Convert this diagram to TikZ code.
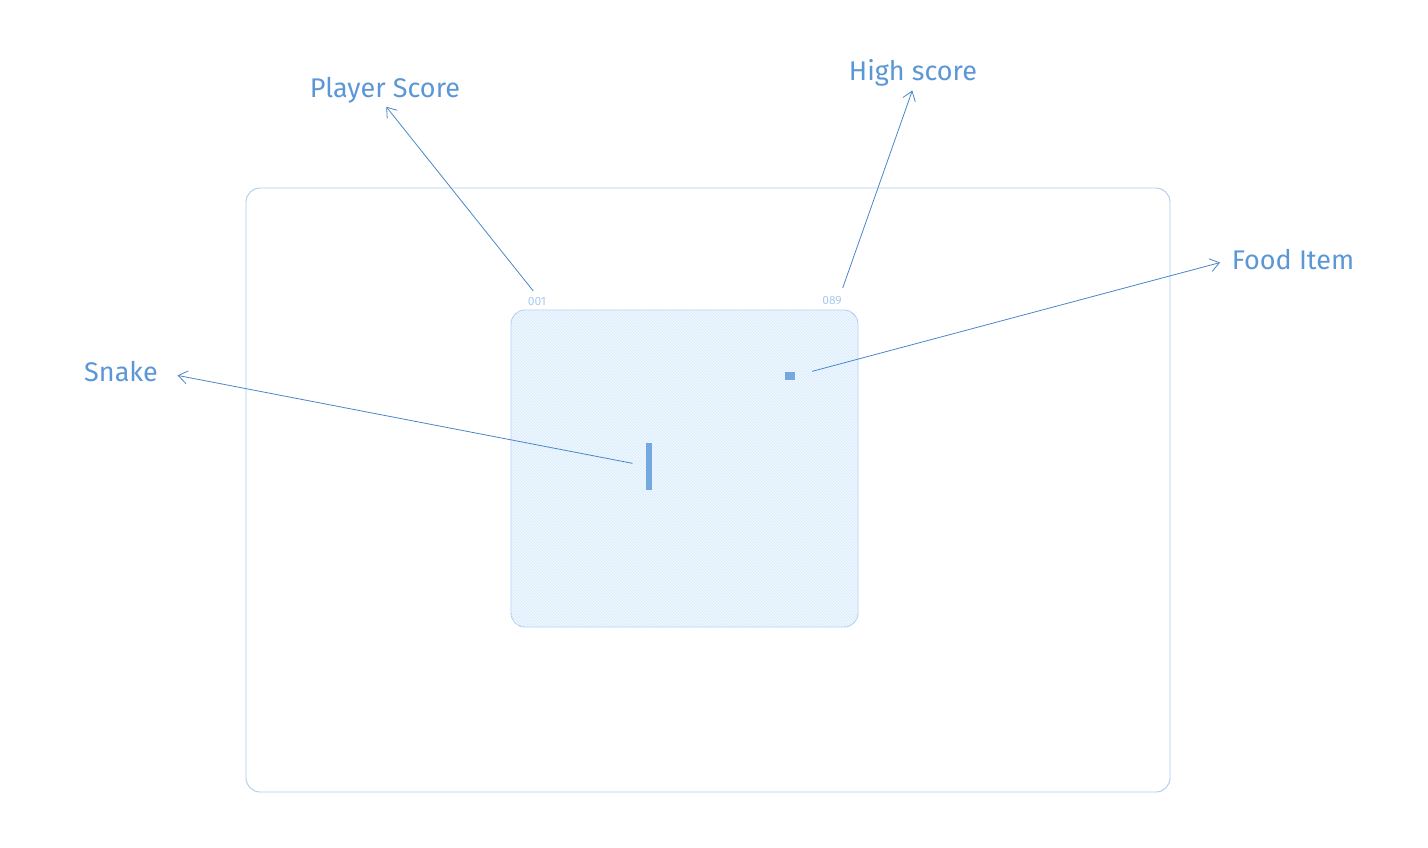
\documentclass[tikz,border=0pt]{standalone}
\usepackage{fontspec}
\setmainfont{Fira Sans}
\usetikzlibrary{patterns,arrows.meta}

\definecolor{sketchblue}{HTML}{5B97D6}
\definecolor{linkblue}{HTML}{4A86C8}
\definecolor{frameblue}{HTML}{A9CBEF}
\definecolor{boardfill}{HTML}{F0F8FF}
\definecolor{hatchblue}{HTML}{D6EAFB}
\definecolor{snakeblue}{HTML}{74A9E0}

\tikzset{
    frame/.style={draw=frameblue, line width=0.9pt, rounded corners=14pt},
    label/.style={text=sketchblue, font=\fontsize{27}{31}\selectfont, inner sep=2pt},
    score/.style={text=frameblue, font=\fontsize{12}{14}\selectfont, inner sep=1pt},
    pointer/.style={draw=linkblue, line width=0.8pt, -{Straight Barb[length=9pt, width=13pt]}}
}

\begin{document}
\begin{tikzpicture}[x=1pt, y=-1pt]
        \useasboundingbox (0,0) rectangle (1428,848);

        % Outer frame
        \draw[frame] (246,188) rectangle (1170,792);

        % Game board
        \draw[frame, fill=boardfill, postaction={pattern=north west lines, pattern color=hatchblue}] (511,310) rectangle (858,627);

        % Scores
        \node[score] (pscore) at (537,301) {001};
        \node[score] (hscore) at (832,301) {089};

        % Snake and food
        \node[fill=snakeblue, draw=snakeblue, minimum width=5pt, minimum height=46pt, inner sep=0pt] (snake) at (649,466) {};
        \node[fill=snakeblue, draw=snakeblue, minimum width=9pt, minimum height=7pt, inner sep=0pt] (food) at (790,376) {};

        % Labels
        \node[label] (plabel) at (385,90) {Player Score};
        \node[label] (hlabel) at (913,73) {High score};
        \node[label] (flabel) at (1293,260) {Food Item};
        \node[label] (slabel) at (121,372) {Snake};

        % Pointers
        \draw[pointer, shorten <=6pt, shorten >=2pt] (pscore.north) -- (plabel.south);
        \draw[pointer, shorten <=8pt, shorten >=2pt] ([xshift=8pt]hscore.north) -- (hlabel.south);
        \draw[pointer, shorten <=18pt, shorten >=10pt] (food.east) -- (flabel.west);
        \draw[pointer, shorten <=14pt, shorten >=18pt] (snake.west) -- (slabel.east);
    \end{tikzpicture}
\end{document}
